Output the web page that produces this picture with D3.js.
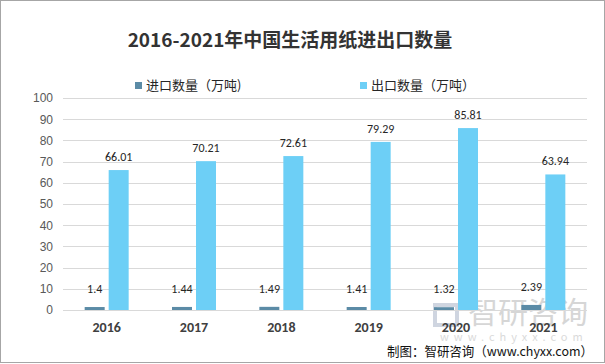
<!DOCTYPE html>
<html><head><meta charset="utf-8">
<script src="https://cdn.jsdelivr.net/npm/d3@7"></script>
<style>body{margin:0;background:#fff}svg{display:block;font-family:"Microsoft YaHei","Noto Sans CJK SC",sans-serif}</style>
</head><body><svg id="c" width="605" height="364"></svg>
<script>
const categories = ["2016","2017","2018","2019","2020","2021"];
const importValues = [1.4,1.44,1.49,1.41,1.32,2.39];
const exportValues = [66.01,70.21,72.61,79.29,85.81,63.94];
const yTicks = [0,10,20,30,40,50,60,70,80,90,100];
const seriesNames = ["进口数量（万吨)","出口数量（万吨）"];
const colors = ["#5b8ba6","#6dcff6"];

const svg = d3.select("#c");
svg.append("rect").attr("x",0.5).attr("y",0.5).attr("width",604).attr("height",362).attr("fill","#fff").attr("stroke","#a6a6a6");

const m = {l:63, r:587, t:98, b:310};
const x = d3.scaleBand().domain(categories).range([m.l,m.r]).paddingInner(0).paddingOuter(0);
const y = d3.scaleLinear().domain([0,100]).range([m.b,m.t]);

// watermark
const wm = svg.append("g");
wm.append("text").attr("x",468).attr("y",323).attr("font-size",30).attr("fill","#d6d6d6").text("智研咨询");
wm.append("rect").attr("x",435).attr("y",305).attr("width",22).attr("height",20).attr("fill","none").attr("stroke","#cfd5e0").attr("stroke-width",4);
wm.append("text").attr("x",440).attr("y",341).attr("font-size",11).attr("fill","#dadada").attr("letter-spacing",5).text("www.chyxx.com");

// grid
svg.append("g").selectAll("line").data(yTicks).join("line")
  .attr("x1",m.l).attr("x2",m.r).attr("y1",d=>Math.round(y(d))+0.5).attr("y2",d=>Math.round(y(d))+0.5)
  .attr("stroke","#d9d9d9").attr("stroke-width",1);

const yAxis = svg.append("g").attr("transform",`translate(${m.l-10},0)`)
  .call(d3.axisLeft(y).tickValues(yTicks).tickSize(0).tickPadding(0));
yAxis.select(".domain").remove();
yAxis.selectAll("text").attr("font-size",12).attr("fill","#595959").attr("font-family","Arial,'Liberation Sans',sans-serif");

const xAxis = svg.append("g").attr("transform",`translate(0,${m.b})`)
  .call(d3.axisBottom(x).tickSize(0).tickPadding(12));
xAxis.select(".domain").remove();
xAxis.selectAll("text").attr("font-size",14).attr("font-weight","bold").attr("fill","#404040").attr("font-family","Calibri,'Liberation Sans',Arial,sans-serif");

const bw = 20, gap = 4;
const g = svg.append("g");
g.selectAll(".imp").data(categories).join("rect")
  .attr("x",d=>x(d)+x.bandwidth()/2-gap/2-bw).attr("width",bw)
  .attr("y",(d,i)=>y(importValues[i])).attr("height",(d,i)=>y(0)-y(importValues[i]))
  .attr("fill",colors[0]);
g.selectAll(".exp").data(categories).join("rect")
  .attr("x",d=>x(d)+x.bandwidth()/2+gap/2).attr("width",bw)
  .attr("y",(d,i)=>y(exportValues[i])).attr("height",(d,i)=>y(0)-y(exportValues[i]))
  .attr("fill",colors[1]);

const lf = "Calibri,'Liberation Sans',Arial,sans-serif";
g.selectAll(".il").data(categories).join("text")
  .attr("x",d=>x(d)+x.bandwidth()/2-gap/2-bw/2)
  .attr("y",(d,i)=>y(importValues[i])-14).attr("text-anchor","middle")
  .attr("font-size",12).attr("fill","#262626").attr("font-family",lf)
  .text((d,i)=>importValues[i]);
g.selectAll(".el").data(categories).join("text")
  .attr("x",d=>x(d)+x.bandwidth()/2+gap/2+bw/2)
  .attr("y",(d,i)=>y(exportValues[i])-9).attr("text-anchor","middle")
  .attr("font-size",12).attr("fill","#262626").attr("font-family",lf)
  .text((d,i)=>exportValues[i].toFixed(2));

// title
svg.append("text").attr("x",290).attr("y",47).attr("text-anchor","middle")
  .attr("font-size",19).attr("font-weight","bold").attr("fill","#333")
  .text("2016-2021年中国生活用纸进出口数量");

// legend
const lx = [135,360];
seriesNames.forEach((s,i)=>{
  svg.append("rect").attr("x",lx[i]).attr("y",82).attr("width",7).attr("height",7).attr("fill",colors[i]);
  svg.append("text").attr("x",lx[i]+11).attr("y",90).attr("font-size",13).attr("fill","#262626").text(s);
});

// source
svg.append("text").attr("x",387).attr("y",356).attr("font-size",13).attr("fill","#111")
  .attr("textLength",206).attr("lengthAdjust","spacingAndGlyphs")
  .text("制图：智研咨询（www.chyxx.com）");
</script></body></html>
